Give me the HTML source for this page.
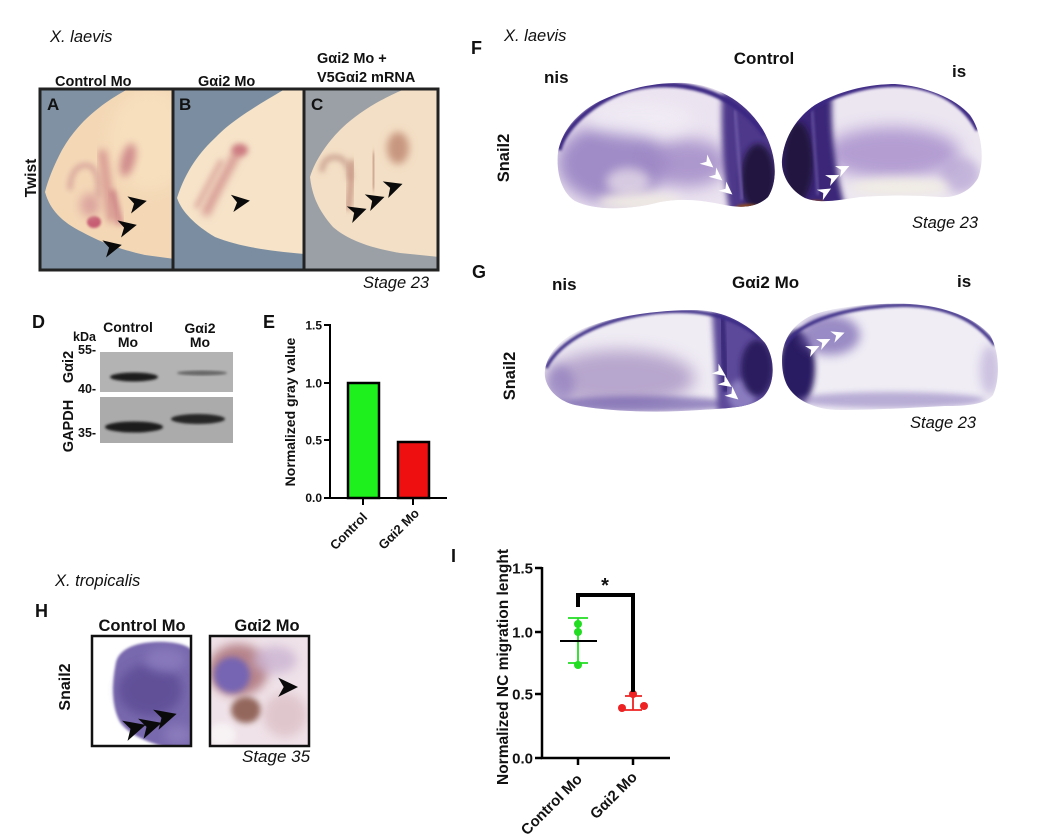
<!DOCTYPE html>
<html><head><meta charset="utf-8"><style>
html,body{margin:0;padding:0;background:#fff}
svg{display:block}
text{font-family:"Liberation Sans",Arial,sans-serif;fill:#111}
.b{font-weight:bold}
.i{font-style:italic}
</style></head><body>
<svg width="1042" height="835" viewBox="0 0 1042 835" xmlns="http://www.w3.org/2000/svg">
<defs>
<filter id="b1" x="-20%" y="-20%" width="140%" height="140%"><feGaussianBlur stdDeviation="1.2"/></filter>
<filter id="b3" x="-50%" y="-50%" width="200%" height="200%"><feGaussianBlur stdDeviation="3"/></filter>
<filter id="b4" x="-50%" y="-50%" width="200%" height="200%"><feGaussianBlur stdDeviation="4"/></filter>
<filter id="b5" x="-50%" y="-50%" width="200%" height="200%"><feGaussianBlur stdDeviation="5"/></filter>
<filter id="b8" x="-50%" y="-50%" width="200%" height="200%"><feGaussianBlur stdDeviation="8"/></filter>
<path id="ah" d="M10 0 L-8 -8.5 L-3 0 L-8 9 Z"/>
<path id="wh" d="M7 0 L-6 -6 L-2 0 L-6 6 Z"/>
<clipPath id="cA"><rect x="41" y="90" width="131" height="179"/></clipPath>
<clipPath id="cB"><rect x="174" y="90" width="129" height="179"/></clipPath>
<clipPath id="cC"><rect x="305" y="90" width="132" height="179"/></clipPath>
<clipPath id="eA"><path d="M128 89 C108 100 80 118 62 150 C54 165 48 180 45 192 C50 210 62 222 82 232 C100 242 122 250 145 255 L175 259 L175 89 Z"/></clipPath>
<clipPath id="eB"><path d="M285 89 C258 105 232 120 216 137 C200 152 186 170 177 198 C182 212 195 225 215 237 C240 247 270 251 305 254 L305 89 Z"/></clipPath>
<clipPath id="eC"><path d="M405 89 C378 100 355 115 340 130 C328 142 315 160 310 177 C312 195 318 210 333 227 C348 240 370 248 400 253 L440 257 L440 89 Z"/></clipPath>
<clipPath id="fL"><path d="M558 152 C562 130 578 112 600 101 C625 89 655 82 685 83 C715 85 745 100 763 130 C776 152 779 180 768 197 C755 209 738 208 720 204 C700 200 680 198 660 202 C630 210 595 211 575 201 C561 192 556 172 558 152 Z"/></clipPath>
<clipPath id="fR"><path d="M782 160 C784 138 796 118 815 105 C840 90 870 84 895 84 C925 86 955 98 970 115 C982 132 985 160 978 178 C970 192 955 198 940 197 C915 195 885 195 860 197 C840 200 820 204 805 198 C790 190 781 175 782 160 Z"/></clipPath>
<clipPath id="gL"><path d="M545 370 C548 350 565 335 590 326 C620 315 660 310 697 310 C725 311 750 325 765 343 C776 360 775 385 763 397 C750 408 730 408 700 410 C660 413 610 412 575 405 C555 400 543 385 545 370 Z"/></clipPath>
<clipPath id="gR"><path d="M782 360 C782 338 795 322 815 314 C845 305 880 303 910 304 C945 306 975 318 990 335 C1000 352 1000 380 993 395 C985 405 965 406 945 406 C910 408 870 410 840 410 C815 410 795 400 787 385 C783 377 782 368 782 360 Z"/></clipPath>
<clipPath id="h1"><rect x="93" y="637" width="97" height="108"/></clipPath>
<clipPath id="h2"><rect x="211" y="637" width="97" height="108"/></clipPath>
</defs>

<!-- ===== Panels A-C ===== -->
<text x="50" y="42" class="i" font-size="16.5">X. laevis</text>
<text x="55" y="86" class="b" font-size="14.5">Control Mo</text>
<text x="198" y="86" class="b" font-size="14.5">Gαi2 Mo</text>
<text x="317" y="63" class="b" font-size="14.5">Gαi2 Mo +</text>
<text x="317" y="82" class="b" font-size="14.5">V5Gαi2 mRNA</text>
<text transform="translate(36,178) rotate(-90)" text-anchor="middle" class="b" font-size="15.5">Twist</text>

<!-- A -->
<g clip-path="url(#cA)">
<rect x="40" y="89" width="134" height="182" fill="#7f91a3"/>
<rect x="130" y="89" width="50" height="30" fill="#8b9bab" filter="url(#b8)"/>
<g clip-path="url(#eA)">
<rect x="40" y="89" width="140" height="182" fill="#f4d8b6"/>
<ellipse cx="150" cy="140" rx="40" ry="50" fill="#f7dfbd" filter="url(#b8)"/>
<path d="M70 190 C70 170 80 163 90 166 C98 170 99 185 98 198" fill="none" stroke="#d8a69c" stroke-width="5" filter="url(#b3)"/>
<path d="M102 150 C106 175 108 200 112 222" fill="none" stroke="#d4928e" stroke-width="8" filter="url(#b4)"/>
<path d="M112 190 C116 205 118 215 120 225" fill="none" stroke="#cc8084" stroke-width="6" filter="url(#b3)"/>
<ellipse cx="128" cy="160" rx="7" ry="17" fill="#d08c8c" filter="url(#b4)" transform="rotate(15 128 160)"/>
<ellipse cx="94" cy="222" rx="7" ry="6" fill="#c65a72" filter="url(#b1)"/>
<ellipse cx="90" cy="205" rx="10" ry="12" fill="#dca49e" filter="url(#b5)"/>
</g>
</g>
<text x="47" y="110" class="b" font-size="17">A</text>
<use href="#ah" transform="translate(137,203) rotate(-12)" fill="#0a0a0a"/>
<use href="#ah" transform="translate(127,227) rotate(-12)" fill="#0a0a0a"/>
<use href="#ah" transform="translate(112,247) rotate(-12)" fill="#0a0a0a"/>
<rect x="40" y="89" width="133" height="181" fill="none" stroke="#222" stroke-width="3"/>

<!-- B -->
<g clip-path="url(#cB)">
<rect x="173" y="89" width="132" height="182" fill="#7b8ea1"/>
<g clip-path="url(#eB)">
<rect x="173" y="89" width="135" height="182" fill="#f6e3c8"/>
<path d="M240 148 C228 170 215 192 205 215" fill="none" stroke="#d49490" stroke-width="8" filter="url(#b4)"/>
<path d="M222 160 C212 178 203 195 196 208" fill="none" stroke="#e0b0a4" stroke-width="6" filter="url(#b3)"/>
<ellipse cx="240" cy="150" rx="8" ry="6" fill="#cc7a80" filter="url(#b3)"/>
</g>
</g>
<text x="179" y="110" class="b" font-size="17">B</text>
<use href="#ah" transform="translate(240,202) rotate(-8)" fill="#0a0a0a"/>
<rect x="173" y="89" width="131" height="181" fill="none" stroke="#222" stroke-width="3"/>

<!-- C -->
<g clip-path="url(#cC)">
<rect x="304" y="89" width="136" height="182" fill="#9aa0a6"/>
<g clip-path="url(#eC)">
<rect x="304" y="89" width="136" height="182" fill="#f3dfc5"/>
<path d="M322 172 C322 160 330 155 340 158 C348 162 350 172 350 180" fill="none" stroke="#cba290" stroke-width="5" filter="url(#b3)"/>
<path d="M352 160 C352 180 350 195 348 210" fill="none" stroke="#c89886" stroke-width="6" filter="url(#b3)"/>
<path d="M373 152 C374 165 374 178 373 190" fill="none" stroke="#c99c88" stroke-width="7" filter="url(#b3)"/>
<ellipse cx="398" cy="148" rx="11" ry="16" fill="#c8967f" filter="url(#b4)"/>
</g>
</g>
<text x="311" y="110" class="b" font-size="17">C</text>
<use href="#ah" transform="translate(357,212) rotate(-18)" fill="#0a0a0a"/>
<use href="#ah" transform="translate(375,200) rotate(-18)" fill="#0a0a0a"/>
<use href="#ah" transform="translate(393,187) rotate(-18)" fill="#0a0a0a"/>
<rect x="304" y="89" width="134" height="181" fill="none" stroke="#222" stroke-width="3"/>
<text x="363" y="288" class="i" font-size="16.5">Stage 23</text>

<!-- ===== Panel F ===== -->
<text x="471" y="54" class="b" font-size="18">F</text>
<text x="504" y="41" class="i" font-size="16.5">X. laevis</text>
<text x="764" y="64" text-anchor="middle" class="b" font-size="17">Control</text>
<text x="544" y="83" class="b" font-size="17">nis</text>
<text x="952" y="77" class="b" font-size="17">is</text>
<text transform="translate(509,158) rotate(-90)" text-anchor="middle" class="b" font-size="16.5">Snail2</text>

<g clip-path="url(#fL)">
<rect x="550" y="78" width="235" height="140" fill="#ebe3f0"/>
<ellipse cx="612" cy="163" rx="55" ry="40" fill="#937dc0" opacity="0.85" filter="url(#b8)"/>
<ellipse cx="688" cy="163" rx="40" ry="24" fill="#9d85c4" opacity="0.8" filter="url(#b8)"/>
<ellipse cx="640" cy="118" rx="55" ry="18" fill="#f0ebf4" opacity="0.9" filter="url(#b8)"/>
<ellipse cx="628" cy="182" rx="22" ry="14" fill="#e4dae8" opacity="0.8" filter="url(#b5)"/>
<ellipse cx="640" cy="202" rx="42" ry="9" fill="#efe9e4" filter="url(#b5)"/>
<path d="M722 92 L790 92 L790 215 L730 215 Q720 160 722 92 Z" fill="#4d388a" filter="url(#b3)"/>
<ellipse cx="758" cy="178" rx="17" ry="34" fill="#231440" filter="url(#b3)"/>
<path d="M735 110 L742 200" stroke="#6a56a4" stroke-width="3" filter="url(#b1)"/>
<ellipse cx="748" cy="208" rx="13" ry="4" fill="#8b4a22" filter="url(#b1)"/>
<path d="M559 150 C565 125 600 95 640 87 C680 80 730 88 765 135" fill="none" stroke="#3a2882" stroke-width="5" filter="url(#b1)"/>
</g>
<use href="#wh" transform="translate(708,163) rotate(40)" fill="#fff"/>
<use href="#wh" transform="translate(717,176) rotate(40)" fill="#fff"/>
<use href="#wh" transform="translate(727,190) rotate(40)" fill="#fff"/>

<g clip-path="url(#fR)">
<rect x="778" y="80" width="212" height="125" fill="#ece6f1"/>
<ellipse cx="892" cy="153" rx="68" ry="26" fill="#a58bca" opacity="0.8" filter="url(#b8)"/>
<ellipse cx="960" cy="175" rx="20" ry="18" fill="#b3a0d2" opacity="0.7" filter="url(#b5)"/>
<ellipse cx="900" cy="187" rx="50" ry="9" fill="#f1ede5" filter="url(#b5)"/>
<path d="M775 98 L832 98 Q830 150 845 207 L775 210 Z" fill="#3b2878" filter="url(#b3)"/>
<ellipse cx="798" cy="162" rx="15" ry="40" fill="#22153f" filter="url(#b3)"/>
<path d="M812 110 L818 195" stroke="#5d4a98" stroke-width="3" filter="url(#b1)"/>
<ellipse cx="815" cy="203" rx="10" ry="3" fill="#8b4a22" filter="url(#b1)"/>
<path d="M790 125 C820 95 870 82 905 85 C940 88 965 105 978 130" fill="none" stroke="#3a2882" stroke-width="5" filter="url(#b1)"/>
</g>
<use href="#wh" transform="translate(843,169) rotate(-25)" fill="#fff"/>
<use href="#wh" transform="translate(833,178) rotate(-25)" fill="#fff"/>
<use href="#wh" transform="translate(825,192) rotate(-30)" fill="#fff"/>
<text x="912" y="228" class="i" font-size="16.5">Stage 23</text>

<!-- ===== Panel G ===== -->
<text x="472" y="278" class="b" font-size="18">G</text>
<text x="552" y="290" class="b" font-size="17">nis</text>
<text x="732" y="288" class="b" font-size="17">Gαi2 Mo</text>
<text x="957" y="287" class="b" font-size="17">is</text>
<text transform="translate(515,376) rotate(-90)" text-anchor="middle" class="b" font-size="16.5">Snail2</text>

<g clip-path="url(#gL)">
<rect x="540" y="305" width="240" height="112" fill="#f0ecf4"/>
<ellipse cx="620" cy="378" rx="75" ry="28" fill="#ad9ac6" opacity="0.85" filter="url(#b8)"/>
<ellipse cx="640" cy="404" rx="95" ry="8" fill="#6c58a8" opacity="0.65" filter="url(#b3)"/>
<ellipse cx="560" cy="385" rx="14" ry="20" fill="#8b78bb" opacity="0.6" filter="url(#b5)"/>
<path d="M712 310 L780 310 L780 415 L718 415 Z" fill="#5b4899" filter="url(#b3)"/>
<ellipse cx="742" cy="395" rx="14" ry="16" fill="#8a7cbf" filter="url(#b3)"/>
<ellipse cx="757" cy="368" rx="16" ry="28" fill="#2a1b5e" filter="url(#b3)"/>
<path d="M722 318 L726 392" stroke="#3a2a7a" stroke-width="6" filter="url(#b1)"/>
<path d="M546 368 C560 340 600 320 650 313 C690 308 730 312 760 338" fill="none" stroke="#3b2b85" stroke-width="3.5" filter="url(#b1)"/>
</g>
<use href="#wh" transform="translate(720,372) rotate(35)" fill="#fff"/>
<use href="#wh" transform="translate(726,383) rotate(35)" fill="#fff"/>
<use href="#wh" transform="translate(733,395) rotate(40)" fill="#fff"/>

<g clip-path="url(#gR)">
<rect x="778" y="300" width="225" height="115" fill="#f0edf5"/>
<ellipse cx="797" cy="368" rx="18" ry="38" fill="#2c1c64" filter="url(#b3)"/>
<ellipse cx="830" cy="335" rx="30" ry="20" fill="#7d6ab4" opacity="0.75" filter="url(#b5)"/>
<ellipse cx="890" cy="400" rx="95" ry="8" fill="#8a78bb" opacity="0.55" filter="url(#b3)"/>
<ellipse cx="990" cy="370" rx="10" ry="25" fill="#a796cc" opacity="0.5" filter="url(#b5)"/>
<path d="M785 345 C800 320 850 306 905 305 C945 306 975 318 995 345" fill="none" stroke="#3b2b85" stroke-width="3.5" filter="url(#b1)"/>
</g>
<use href="#wh" transform="translate(813,349) rotate(-25)" fill="#fff"/>
<use href="#wh" transform="translate(824,342) rotate(-25)" fill="#fff"/>
<use href="#wh" transform="translate(838,335) rotate(-20)" fill="#fff"/>
<text x="910" y="428" class="i" font-size="16.5">Stage 23</text>

<!-- ===== Panel D ===== -->
<text x="32" y="328" class="b" font-size="18">D</text>
<text x="128" y="332" text-anchor="middle" class="b" font-size="14">Control</text>
<text x="128" y="347" text-anchor="middle" class="b" font-size="14">Mo</text>
<text x="200" y="333" text-anchor="middle" class="b" font-size="14">Gαi2</text>
<text x="200" y="347" text-anchor="middle" class="b" font-size="14">Mo</text>
<text x="73" y="341" class="b" font-size="12.5">kDa</text>
<text x="78" y="354" class="b" font-size="12.5">55-</text>
<text x="78" y="393" class="b" font-size="12.5">40-</text>
<text x="78" y="437" class="b" font-size="12.5">35-</text>
<text transform="translate(73,367) rotate(-90)" text-anchor="middle" class="b" font-size="14.5">Gαi2</text>
<text transform="translate(73,426) rotate(-90)" text-anchor="middle" class="b" font-size="14.5">GAPDH</text>
<rect x="100" y="352" width="133" height="40" fill="#b3b3b3"/>
<rect x="100" y="397" width="133" height="46" fill="#ababab"/>
<ellipse cx="134" cy="377" rx="24" ry="4.5" fill="#1e1e1e" filter="url(#b1)"/>
<ellipse cx="202" cy="373" rx="25" ry="2.5" fill="#666" filter="url(#b1)"/>
<ellipse cx="134" cy="427" rx="29" ry="5.5" fill="#1c1c1c" filter="url(#b1)"/>
<ellipse cx="198" cy="419" rx="27" ry="5" fill="#262626" filter="url(#b1)"/>

<!-- ===== Panel E ===== -->
<text x="263" y="328" class="b" font-size="18">E</text>
<text transform="translate(295,412) rotate(-90)" text-anchor="middle" class="b" font-size="14">Normalized gray value</text>
<g class="b" font-size="12" text-anchor="end">
<text x="322" y="329.5">1.5</text>
<text x="322" y="387.5">1.0</text>
<text x="322" y="444.5">0.5</text>
<text x="322" y="502">0.0</text>
</g>
<rect x="348" y="383" width="31" height="115" fill="#1ef01e" stroke="#000" stroke-width="2.5"/>
<rect x="398" y="442" width="31" height="56" fill="#ee1010" stroke="#000" stroke-width="2.5"/>
<g stroke="#000" stroke-width="2" fill="none">
<path d="M330 324 L330 498 L447 498"/>
<path d="M324 325 H330 M324 383 H330 M324 440 H330 M324 498 H330"/>
<path d="M363 498 V505 M413 498 V505"/>
</g>
<text transform="translate(368,518) rotate(-45)" text-anchor="end" class="b" font-size="13">Control</text>
<text transform="translate(420,514) rotate(-45)" text-anchor="end" class="b" font-size="13">Gαi2 Mo</text>

<!-- ===== Panel H ===== -->
<text x="55" y="586" class="i" font-size="16.5">X. tropicalis</text>
<text x="35" y="617" class="b" font-size="18">H</text>
<text x="142" y="631" text-anchor="middle" class="b" font-size="16.5">Control Mo</text>
<text x="267" y="631" text-anchor="middle" class="b" font-size="16.5">Gαi2 Mo</text>
<text transform="translate(70,687) rotate(-90)" text-anchor="middle" class="b" font-size="16">Snail2</text>

<g clip-path="url(#h1)">
<rect x="92" y="636" width="100" height="111" fill="#fff"/>
<path d="M116 662 C120 647 140 641 165 642 C180 643 188 646 192 650 L192 748 L168 748 C148 742 130 736 120 722 C111 706 112 682 116 662 Z" fill="#7868ad" filter="url(#b1)"/>
<ellipse cx="150" cy="690" rx="32" ry="26" fill="#5c4c94" opacity="0.8" filter="url(#b5)"/>
<ellipse cx="165" cy="660" rx="20" ry="12" fill="#8c7dbf" opacity="0.8" filter="url(#b5)"/>
<ellipse cx="178" cy="735" rx="14" ry="10" fill="#8f80c0" opacity="0.8" filter="url(#b5)"/>
</g>
<use href="#ah" transform="translate(134,728) rotate(-15) scale(1.2)" fill="#0a0a0a"/>
<use href="#ah" transform="translate(150,726) rotate(-15) scale(1.2)" fill="#0a0a0a"/>
<use href="#ah" transform="translate(165,717) rotate(-15) scale(1.2)" fill="#0a0a0a"/>
<rect x="92" y="636" width="99" height="110" fill="none" stroke="#111" stroke-width="2.5"/>

<g clip-path="url(#h2)">
<rect x="210" y="636" width="100" height="111" fill="#efe2e8"/>
<ellipse cx="238" cy="670" rx="30" ry="26" fill="#a86c72" opacity="0.8" filter="url(#b5)"/>
<ellipse cx="232" cy="675" rx="18" ry="18" fill="#6f62b8" opacity="0.9" filter="url(#b3)"/>
<ellipse cx="246" cy="710" rx="15" ry="13" fill="#8a5a4e" opacity="0.9" filter="url(#b3)"/>
<ellipse cx="275" cy="660" rx="22" ry="14" fill="#cbb3d2" opacity="0.8" filter="url(#b5)"/>
<ellipse cx="285" cy="715" rx="22" ry="22" fill="#dcc0c6" opacity="0.8" filter="url(#b5)"/>
<ellipse cx="222" cy="735" rx="14" ry="12" fill="#f7f2f4" filter="url(#b3)"/>
</g>
<use href="#ah" transform="translate(287,687) rotate(0) scale(1.1)" fill="#0a0a0a"/>
<rect x="210" y="636" width="99" height="110" fill="none" stroke="#111" stroke-width="2.5"/>
<text x="242" y="762" class="i" font-size="17">Stage 35</text>

<!-- ===== Panel I ===== -->
<text x="451" y="562" class="b" font-size="18">I</text>
<text transform="translate(508,667) rotate(-90)" text-anchor="middle" class="b" font-size="15.5">Normalized NC migration lenght</text>
<g class="b" font-size="15" text-anchor="end">
<text x="533" y="573.5">1.5</text>
<text x="533" y="637.5">1.0</text>
<text x="533" y="699.5">0.5</text>
<text x="533" y="763.5">0.0</text>
</g>
<g stroke="#000" stroke-width="2.5" fill="none">
<path d="M542 567 L542 758 L670 758"/>
<path d="M535 568 H542 M535 632 H542 M535 694 H542 M535 758 H542"/>
<path d="M578 758 V765 M633 758 V765"/>
</g>
<g stroke="#22dd22" stroke-width="1.8" fill="none">
<path d="M578 618 V663 M568 618 H588 M568 663 H588"/>
</g>
<path d="M560 641 H597" stroke="#000" stroke-width="2"/>
<g fill="#22dd22">
<circle cx="578" cy="624" r="4"/>
<circle cx="578" cy="632" r="4"/>
<circle cx="578" cy="665" r="4"/>
</g>
<g stroke="#ee2222" stroke-width="1.8" fill="none">
<path d="M633 696 V710 M625 696 H642 M625 710 H642"/>
</g>
<g fill="#ee2222">
<circle cx="633" cy="694" r="4"/>
<circle cx="622" cy="708" r="4"/>
<circle cx="644" cy="706" r="4"/>
</g>
<path d="M578 607 L578 595 L633 595 L633 692" fill="none" stroke="#000" stroke-width="4"/>
<text x="605" y="592" text-anchor="middle" class="b" font-size="20">*</text>
<text transform="translate(583,780) rotate(-45)" text-anchor="end" class="b" font-size="15">Control Mo</text>
<text transform="translate(638,778) rotate(-45)" text-anchor="end" class="b" font-size="15">Gαi2 Mo</text>
</svg>
</body></html>
